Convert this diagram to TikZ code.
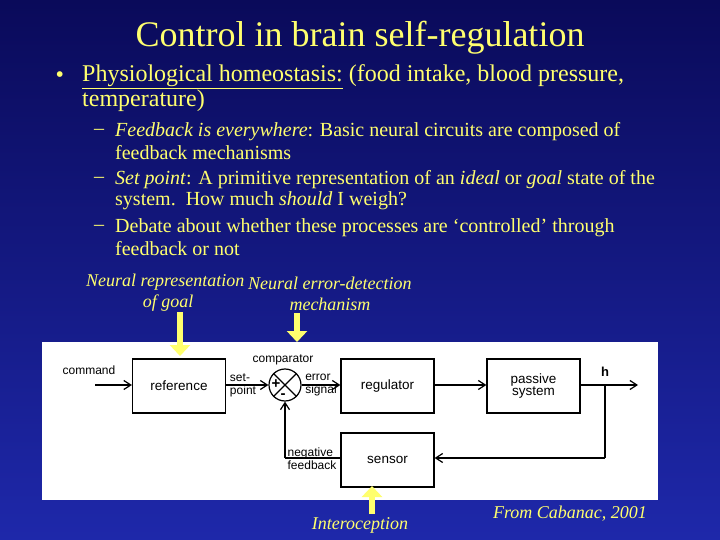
\documentclass[tikz,border=0pt]{standalone}
\usepackage{fontspec}
\setmainfont{Liberation Serif}
\newfontfamily\dsans{Liberation Sans}
\usetikzlibrary{arrows.meta}
\definecolor{ylw}{RGB}{255,255,110}
\definecolor{bgtop}{RGB}{10,10,90}
\definecolor{bgbot}{RGB}{30,40,170}
\begin{document}
\begin{tikzpicture}[x=1pt,y=-1pt,
  box/.style={draw,line width=1.2pt,minimum width=93pt,minimum height=54pt,font=\dsans\fontsize{13.5}{14}\selectfont},
  lbl/.style={font=\dsans\fontsize{12}{13}\selectfont,align=left,inner sep=0pt},
  ln/.style={line width=1.2pt},
  ar/.style={line width=1.2pt,-{Straight Barb[length=7pt,width=9pt]}},
  ytext/.style={text=ylw,font=\itshape\fontsize{18}{19}\selectfont,inner sep=0pt}]
\shade[top color=bgtop,bottom color=bgbot] (0,0) rectangle (720,540);
\useasboundingbox (0,0) rectangle (720,540);
\node[text=ylw,font=\fontsize{36}{38}\selectfont] (title) at (360,38) {Control in brain self-regulation};
\node[text=ylw,font=\fontsize{24}{26}\selectfont,anchor=west] (b1) at (52,77) {\textbullet};
\node[text=ylw,font=\fontsize{24}{26}\selectfont,anchor=west,inner sep=0pt] (t1) at (82,77) {\underline{Physiological homeostasis:} (food intake, blood pressure,};
\node[text=ylw,font=\fontsize{24}{26}\selectfont,anchor=west,inner sep=0pt] (t2) at (82,101) {temperature)};
\begin{scope}[every node/.style={text=ylw,font=\fontsize{20}{22}\selectfont,anchor=west,inner sep=0pt}]
\node (d1) at (94,132) {--};
\node (s1) at (115,132) {\textit{Feedback is everywhere}: Basic neural circuits are composed of};
\node (s1b) at (115,153) {feedback mechanisms};
\node (d2) at (94,180) {--};
\node (s2) at (115,180) {\textit{Set point}: A primitive representation of an \textit{ideal} or \textit{goal} state of the};
\node (s2b) at (115,201) {system.\ \ How much \textit{should} I weigh?};
\node (d3) at (94,228) {--};
\node (s3) at (115,228) {Debate about whether these processes are `controlled' through};
\node (s3b) at (115,249) {feedback or not};
\end{scope}
\node[ytext,anchor=west] (nr) at (86,282) {Neural representation};
\node[ytext] (nr2) at (168,303) {of goal};
\node[ytext,anchor=west] (ne) at (248,283) {Neural error-detection};
\node[ytext] (ne2) at (330,304) {mechanism};
\fill[white] (42,342) rectangle (658,500);
\node[box] (ref) at (179,386) {reference};
\node[box] (reg) at (387.5,386) {regulator};
\node[box,align=center] (pas) at (533.5,386) {passive\\[-2pt]system};
\node[box] (sen) at (387.5,460) {sensor};
\node[draw,circle,line width=1.2pt,minimum size=32pt,inner sep=0pt] (cmp) at (285,385) {};
\draw[ln] (cmp.45)--(cmp.225) (cmp.135)--(cmp.315);
\node[font=\dsans\bfseries\fontsize{15}{15}\selectfont] (plus) at (276,384) {+};
\node[font=\dsans\bfseries\fontsize{15}{15}\selectfont] (minus) at (283,396) {-};
\coordinate (cin) at (95,385);
\coordinate (hout) at (638,385);
\coordinate (tap) at (605,385);
\coordinate (tapd) at (605,458);
\coordinate (fbc) at (285,458);
\draw[ar] (cin) -- (ref.west |- cin);
\draw[ar] (ref.east |- cmp) -- (cmp.west);
\draw[ar] (cmp.east) -- (reg.west |- cmp);
\draw[ar] (reg.east |- cmp) -- (pas.west |- cmp);
\draw[ar] (pas.east |- cmp) -- (hout);
\draw[ln] (tap) -- (tapd);
\draw[ar] (tapd) -- (sen.east |- tapd);
\draw[ln] (sen.west |- tapd) -- (fbc);
\draw[ar] (fbc) -- (cmp.south);
\node[lbl] (cmd) at (89,370) {command};
\node[lbl] (comp) at (283,360) {comparator};
\node[lbl] (sp) at (243,385) {set-\\point};
\node[lbl] (es) at (321,385) {error\\signal};
\node[lbl] (nf) at (312,459) {negative\\feedback};
\node[font=\dsans\bfseries\fontsize{13}{13}\selectfont] (h) at (605,372) {h};
\coordinate (y1a) at (180,312); \coordinate (y1b) at (180,356);
\coordinate (y2a) at (297,313); \coordinate (y2b) at (297,342);
\coordinate (y3a) at (372,514); \coordinate (y3b) at (372,486);
\draw[ylw,line width=6pt,-{Triangle[length=11pt,width=20pt]}] (y1a) -- (y1b);
\draw[ylw,line width=6pt,-{Triangle[length=11pt,width=20pt]}] (y2a) -- (y2b);
\draw[ylw,line width=6pt,-{Triangle[length=11pt,width=20pt]}] (y3a) -- (y3b);
\node[ytext] (int) at (360,525) {Interoception};
\node[ytext] (cab) at (570,514) {From Cabanac, 2001};
\end{tikzpicture}
\end{document}
